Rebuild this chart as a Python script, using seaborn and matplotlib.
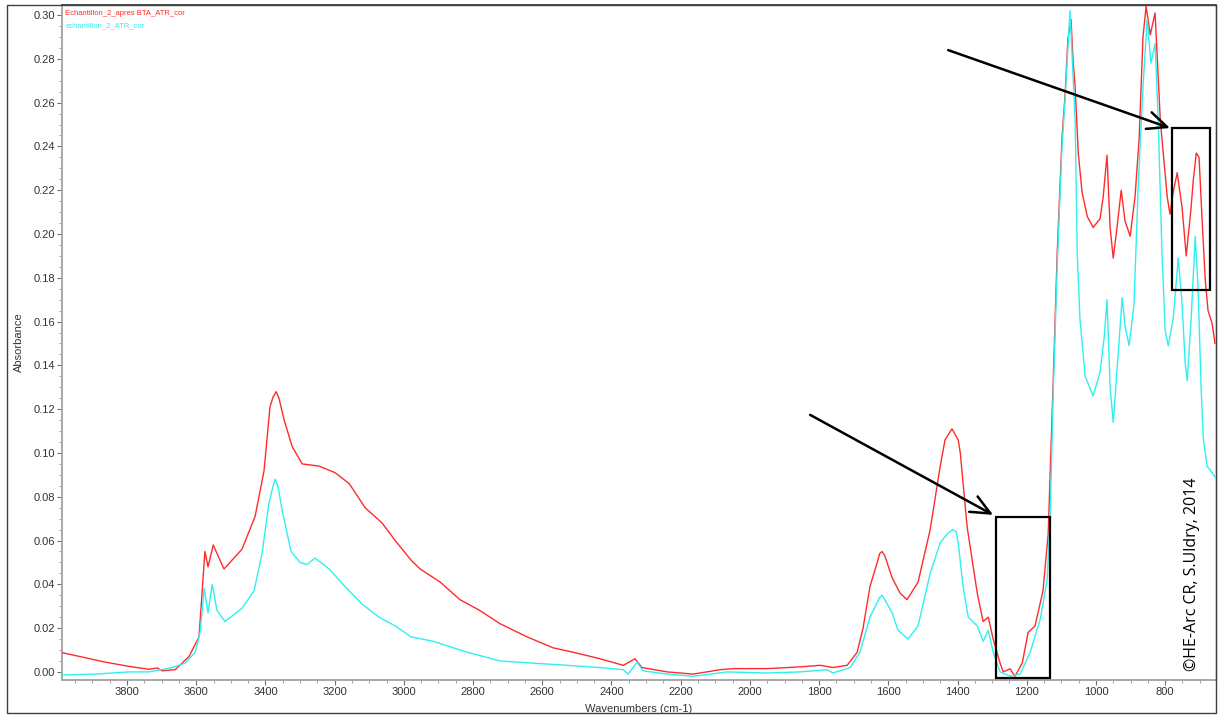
import numpy as np
import pandas as pd
import matplotlib
matplotlib.use("Agg")
import matplotlib.pyplot as plt
from matplotlib.patches import Rectangle
from matplotlib.ticker import MultipleLocator, FormatStrFormatter
import seaborn as sns

# ---- spectra (wavenumber in cm-1, absorbance) ----
wn_bta = [3988, 3864, 3794, 3736, 3712, 3699, 3661, 3621, 3592, 3575, 3566, 3551,
          3520, 3468, 3430, 3404, 3387, 3378, 3369, 3361, 3346, 3323, 3294, 3245, 3199, 3158,
          3112, 3063, 3025, 2979, 2953, 2895, 2838, 2780, 2722, 2644, 2569, 2511,
          2433, 2366, 2332, 2312, 2239, 2164, 2086, 2049, 1950, 1855, 1797, 1760,
          1719, 1690, 1673, 1653, 1632, 1625, 1618, 1610, 1589, 1566, 1546, 1514, 1479, 1450,
          1436, 1416, 1398, 1392, 1372, 1343, 1326, 1311, 1297, 1277, 1268, 1248, 1234, 1213,
          1196, 1176, 1153, 1138, 1124, 1112, 1098, 1089, 1081, 1072, 1066, 1060, 1051, 1040,
          1025, 1008, 988, 979, 968, 959, 950, 939, 927, 916, 901, 887, 875, 864,
          855, 843, 829, 814, 794, 786, 777, 765, 751, 739, 725, 719, 710, 702,
          693, 684, 676, 664, 656]
abs_bta = [0.0088, 0.0045, 0.0025, 0.0012, 0.0018, 0.0005, 0.001, 0.007, 0.016, 0.055, 0.048, 0.058,
           0.047, 0.056, 0.071, 0.092, 0.121, 0.1256, 0.128, 0.125, 0.115, 0.103, 0.095, 0.094, 0.091, 0.086,
           0.075, 0.068, 0.060, 0.051, 0.047, 0.041, 0.033, 0.028, 0.022, 0.016, 0.011, 0.009,
           0.006, 0.003, 0.006, 0.002, 0.000, -0.001, 0.001, 0.0015, 0.0015, 0.0023, 0.003, 0.002,
           0.003, 0.009, 0.020, 0.039, 0.050, 0.054, 0.055, 0.053, 0.043, 0.036, 0.033, 0.041, 0.065, 0.094,
           0.106, 0.111, 0.106, 0.100, 0.066, 0.036, 0.023, 0.025, 0.015, 0.004, 0.000, 0.0014, -0.002, 0.004,
           0.018, 0.021, 0.037, 0.063, 0.130, 0.191, 0.244, 0.264, 0.289, 0.298, 0.279, 0.267, 0.237, 0.219,
           0.208, 0.203, 0.207, 0.217, 0.236, 0.203, 0.189, 0.203, 0.220, 0.206, 0.199, 0.217, 0.244, 0.290,
           0.304, 0.291, 0.301, 0.252, 0.217, 0.209, 0.219, 0.228, 0.212, 0.190, 0.212, 0.224, 0.237, 0.235,
           0.206, 0.179, 0.165, 0.159, 0.150]

wn_ref = [3988, 3892, 3794, 3736, 3670, 3632, 3603, 3589, 3577, 3566, 3554, 3540,
          3517, 3468, 3433, 3410, 3390, 3378, 3372, 3364, 3352, 3326, 3300, 3280, 3257, 3216,
          3170, 3121, 3072, 3025, 2979, 2916, 2817, 2722, 2627, 2528, 2433, 2366,
          2352, 2326, 2309, 2239, 2164, 2066, 1950, 1855, 1777, 1760, 1710, 1682,
          1653, 1625, 1618, 1610, 1589, 1572, 1543, 1514, 1479, 1450, 1427, 1413, 1404, 1398, 1384, 1369,
          1343, 1326, 1311, 1297, 1277, 1248, 1219, 1190, 1161, 1141, 1132, 1124,
          1112, 1098, 1089, 1075, 1060, 1054, 1046, 1031, 1008, 988, 976, 968,
          959, 950, 939, 924, 916, 904, 890, 878, 864, 852, 841, 829, 820, 809,
          800, 791, 777, 762, 751, 742, 736, 725, 713, 705, 696, 690, 679, 664, 656]
abs_ref = [-0.0014, -0.001, 0.000, 0.000, 0.002, 0.004, 0.009, 0.018, 0.038, 0.027, 0.040, 0.028,
           0.023, 0.029, 0.037, 0.054, 0.077, 0.085, 0.088, 0.085, 0.074, 0.055, 0.050, 0.049, 0.052, 0.047,
           0.039, 0.031, 0.025, 0.021, 0.016, 0.014, 0.009, 0.005, 0.004, 0.003, 0.002, 0.001,
           -0.001, 0.0045, 0.0005, -0.001, -0.002, 0.000, -0.0005, 0.000, 0.001, -0.0005, 0.002, 0.009,
           0.025, 0.034, 0.035, 0.033, 0.027, 0.019, 0.015, 0.021, 0.045, 0.059, 0.0635, 0.065, 0.064, 0.059, 0.039, 0.025,
           0.021, 0.014, 0.019, 0.009, 0.000, -0.002, -0.001, 0.009, 0.024, 0.042, 0.071, 0.124,
           0.185, 0.240, 0.262, 0.302, 0.252, 0.191, 0.161, 0.135, 0.126, 0.137, 0.153, 0.170,
           0.130, 0.114, 0.138, 0.171, 0.158, 0.149, 0.168, 0.221, 0.267, 0.298, 0.278, 0.287, 0.252, 0.191,
           0.156, 0.149, 0.161, 0.189, 0.168, 0.141, 0.133, 0.161, 0.199, 0.176, 0.130, 0.107, 0.094, 0.091, 0.089]

series_names = ["Echantillon_2_apres BTA_ATR_cor", "echantillon_2_ATR_cor"]
series_colors = ["#ff2b2b", "#2ef0f0"]

# highlighted regions (wavenumber span, absorbance span)
box_low = (1288, 1132, -0.0027, 0.0708)
box_high = (780, 670, 0.1744, 0.2484)
# arrows: (start wn, start abs) -> (end wn, end abs)
arrow_low = ((1826, 0.1174), (1297, 0.0717))
arrow_high = ((1427, 0.2840), (786, 0.2484))

sns.set_style("white")
plt.rcParams["font.family"] = ["Liberation Sans Narrow", "Liberation Sans", "DejaVu Sans"]

W, H = 1218, 717
fig = plt.figure(figsize=(W / 100, H / 100), dpi=100)
ax = fig.add_axes([62 / W, 1 - 680 / H, (1216 - 62) / W, (680 - 5) / H])

df = pd.concat([
    pd.DataFrame({"wn": wn_bta, "A": abs_bta, "s": series_names[0]}),
    pd.DataFrame({"wn": wn_ref, "A": abs_ref, "s": series_names[1]}),
])
sns.lineplot(data=df, x="wn", y="A", hue="s", palette=dict(zip(series_names, series_colors)),
             estimator=None, linewidth=1.0, legend=False, ax=ax, zorder=3)

ax.set_xlim(3988, 653)
ax.set_ylim(-0.0037, 0.3046)
ax.set_xticks(list(range(3800, 700, -200)))
ax.xaxis.set_minor_locator(MultipleLocator(50))
ax.yaxis.set_major_locator(MultipleLocator(0.02))
ax.yaxis.set_minor_locator(MultipleLocator(0.005))
ax.yaxis.set_major_formatter(FormatStrFormatter("%.2f"))
ax.tick_params(axis="both", which="major", length=3.5, width=0.8, color="#707070",
               labelsize=8, labelcolor="#333333", pad=1.5)
ax.tick_params(axis="both", which="minor", length=2, width=0.6, color="#909090")
ax.tick_params(axis="x", bottom=True, which="both")
ax.tick_params(axis="y", left=True, which="both")

ax.set_xlabel("Wavenumbers (cm-1)", fontsize=8, color="#333333", labelpad=5)
ax.set_ylabel("Absorbance", fontsize=8, color="#333333", labelpad=7)

for side in ("left", "bottom"):
    ax.spines[side].set_color("#a8a8a8")
    ax.spines[side].set_linewidth(1.4)
ax.spines["top"].set_color("#303030")
ax.spines["top"].set_linewidth(1.2)
ax.spines["right"].set_color("#909090")
ax.spines["right"].set_linewidth(1.0)

# series captions in the top-left corner
for i, (name, col) in enumerate(zip(series_names, series_colors)):
    ax.text(0.003, 0.9875 - i * 0.018, name, transform=ax.transAxes, color=col,
            fontsize=5.5, ha="left", va="center")

# highlight boxes
for x0, x1, y0, y1 in (box_low, box_high):
    ax.add_patch(Rectangle((x0, y0), x1 - x0, y1 - y0, fill=False,
                           edgecolor="black", linewidth=1.6, zorder=5))

# arrows pointing at the boxes
for (xs, ys), (xe, ye) in (arrow_low, arrow_high):
    ax.annotate("", xy=(xe, ye), xytext=(xs, ys),
                arrowprops=dict(arrowstyle="->,head_length=1.0,head_width=0.45",
                                color="black", lw=1.8, shrinkA=0, shrinkB=0,
                                mutation_scale=14), zorder=6)

# outer frame
fig.add_artist(Rectangle((7 / W, 1 - 713 / H), (1216 - 7) / W, (713 - 5) / H,
                         transform=fig.transFigure, fill=False,
                         edgecolor="#404040", linewidth=1.0))

fig.text(1192 / W, 1 - 574 / H, "©HE-Arc CR, S.Uldry, 2014", rotation=90,
         ha="center", va="center", fontsize=11.5, color="black",
         family=["Open Sans", "DejaVu Sans"])

fig.savefig("out.png", dpi=100)
